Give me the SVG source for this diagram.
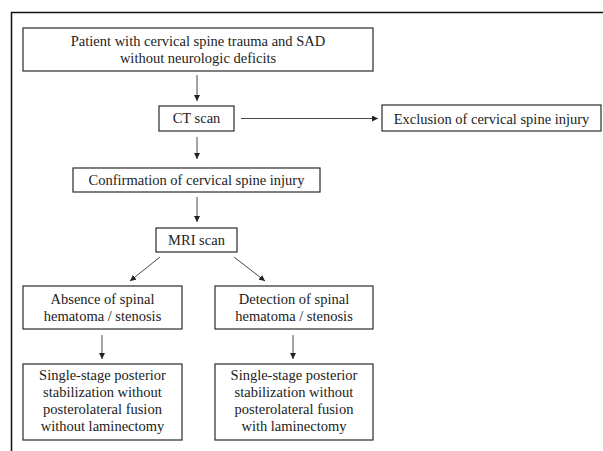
<svg xmlns="http://www.w3.org/2000/svg" width="603" height="451" viewBox="0 0 603 451">
<style>
.box{fill:#fff;stroke:#2a2a2a;stroke-width:1.2}
text{font-family:'Liberation Serif','Times New Roman',Times,serif;font-size:14.5px;fill:#222;text-anchor:middle}
.c{stroke:#333;stroke-width:0.9;fill:none;marker-end:url(#ah)}
</style>
<defs>
<marker id="ah" viewBox="0 0 10 10" refX="10" refY="5" markerWidth="6" markerHeight="6" markerUnits="userSpaceOnUse" orient="auto">
<path d="M0,0 L10,5 L0,10 z" fill="#222"/>
</marker>
</defs>
<rect width="603" height="451" fill="#fff"/>
<path d="M11.5,451 V12.5 H603" fill="none" stroke="#111" stroke-width="1.5"/>
<g id="n1" font-family="Liberation Serif, serif"><rect class="box" x="23" y="28" width="350" height="43"/>
<text x="198" y="46">Patient with cervical spine trauma and SAD</text>
<text x="198" y="63">without neurologic deficits</text></g>
<g id="n2" font-family="Liberation Serif, serif"><rect class="box" x="159" y="106" width="75" height="25"/>
<text x="196.5" y="123">CT scan</text></g>
<g id="n3" font-family="Liberation Serif, serif"><rect class="box" x="382" y="105" width="219" height="26"/>
<text x="491.5" y="123.5">Exclusion of cervical spine injury</text></g>
<g id="n4" font-family="Liberation Serif, serif"><rect class="box" x="73" y="168" width="247" height="24"/>
<text x="196.5" y="185">Confirmation of cervical spine injury</text></g>
<g id="n5" font-family="Liberation Serif, serif"><rect class="box" x="156" y="228" width="81" height="24"/>
<text x="196.5" y="245">MRI scan</text></g>
<g id="n6" font-family="Liberation Serif, serif"><rect class="box" x="23" y="286" width="159" height="43"/>
<text x="102.5" y="304">Absence of spinal</text>
<text x="102.5" y="321">hematoma / stenosis</text></g>
<g id="n7" font-family="Liberation Serif, serif"><rect class="box" x="215" y="286" width="158" height="43"/>
<text x="294" y="304">Detection of spinal</text>
<text x="294" y="321">hematoma / stenosis</text></g>
<g id="n8" font-family="Liberation Serif, serif"><rect class="box" x="23" y="364" width="159" height="76"/>
<text x="102.5" y="380">Single-stage posterior</text>
<text x="102.5" y="397">stabilization without</text>
<text x="102.5" y="414">posterolateral fusion</text>
<text x="102.5" y="431">without laminectomy</text></g>
<g id="n9" font-family="Liberation Serif, serif"><rect class="box" x="215" y="364" width="158" height="76"/>
<text x="294" y="380">Single-stage posterior</text>
<text x="294" y="397">stabilization without</text>
<text x="294" y="414">posterolateral fusion</text>
<text x="294" y="431">with laminectomy</text></g>
<g id="connectors">
<line class="c" x1="197" y1="75" x2="197" y2="101"/>
<line class="c" x1="241" y1="118.5" x2="378" y2="118.5"/>
<line class="c" x1="197" y1="137" x2="197" y2="159"/>
<line class="c" x1="197" y1="197" x2="197" y2="222"/>
<line class="c" x1="160" y1="257" x2="130" y2="281"/>
<line class="c" x1="234" y1="257" x2="265" y2="281"/>
<line class="c" x1="102" y1="335" x2="102" y2="359"/>
<line class="c" x1="293" y1="335" x2="293" y2="359"/>
</g>
</svg>
